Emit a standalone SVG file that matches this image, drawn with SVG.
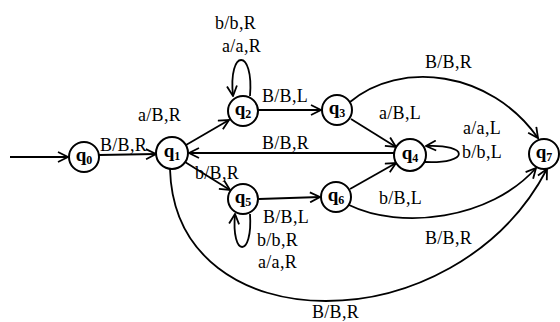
<svg xmlns="http://www.w3.org/2000/svg" width="560" height="322" viewBox="0 0 560 322">
<style>
.node circle{fill:#fff;stroke:#000;stroke-width:2}
.st{font-family:"Liberation Serif","Times New Roman",serif;font-weight:bold;font-size:19px;text-anchor:middle;fill:#000}
.sub{font-size:12px}
.lbl{font-family:"Liberation Serif","Times New Roman",serif;font-size:18px;fill:#000;letter-spacing:0.3px}
.edge{fill:none;stroke:#000;stroke-width:1.8;marker-end:url(#arr)}
</style>
<defs>
<marker id="arr" viewBox="0 0 12 12" refX="11" refY="6" markerWidth="12" markerHeight="12" markerUnits="userSpaceOnUse" orient="auto">
<path d="M1,1 L11,6 L1,11" fill="none" stroke="#000" stroke-width="1.8"/>
</marker>
</defs>
<rect width="560" height="322" fill="#fff"/>
<g id="connectors">
<path class="edge" d="M10,157 L68,157"/>
<path class="edge" d="M99,155 L156,154"/>
<path class="edge" d="M186,145 L229,120"/>
<path class="edge" d="M258,110 L321,110"/>
<path class="edge" d="M351,119 L396,147"/>
<path class="edge" d="M394,153 L189,153"/>
<path class="edge" d="M185,162 L230,190"/>
<path class="edge" d="M259,199 L320,197"/>
<path class="edge" d="M350,189 L396,163"/>
<path class="edge" d="M350,102 C400,60 490,70 538,138"/>
<path class="edge" d="M349,205 C400,230 490,220 536,168"/>
<path class="edge" d="M170,169 C175,345 455,345 547,169"/>
<path class="edge" d="M250,96 C254,48 228,48 233,96"/>
<path class="edge" d="M250,214 C253,258 231,258 235,214"/>
<path class="edge" d="M425,162 C470,164 470,144 426,146"/>
</g>
<g id="labels">
<text class="lbl" x="100" y="151">B/B,R</text>
<text class="lbl" x="138" y="121">a/B,R</text>
<text class="lbl" x="215" y="29">b/b,R</text>
<text class="lbl" x="222" y="52">a/a,R</text>
<text class="lbl" x="262" y="102">B/B,L</text>
<text class="lbl" x="379" y="119">a/B,L</text>
<text class="lbl" x="262" y="149">B/B,R</text>
<text class="lbl" x="195" y="179">b/B,R</text>
<text class="lbl" x="263" y="223">B/B,L</text>
<text class="lbl" x="257" y="246">b/b,R</text>
<text class="lbl" x="258" y="268">a/a,R</text>
<text class="lbl" x="463" y="134">a/a,L</text>
<text class="lbl" x="462" y="158">b/b,L</text>
<text class="lbl" x="379" y="204">b/B,L</text>
<text class="lbl" x="425" y="68">B/B,R</text>
<text class="lbl" x="425" y="244">B/B,R</text>
<text class="lbl" x="312" y="318">B/B,R</text>
</g>
<g id="q0" class="node"><circle cx="84" cy="157" r="15"/><text class="st" x="84" y="161">q<tspan class="sub" dy="3">0</tspan></text></g>
<g id="q1" class="node"><circle cx="172" cy="153" r="16"/><text class="st" x="172" y="157">q<tspan class="sub" dy="3">1</tspan></text></g>
<g id="q2" class="node"><circle cx="243" cy="111" r="15"/><text class="st" x="243" y="115">q<tspan class="sub" dy="3">2</tspan></text></g>
<g id="q3" class="node"><circle cx="337" cy="110" r="15"/><text class="st" x="337" y="114">q<tspan class="sub" dy="3">3</tspan></text></g>
<g id="q4" class="node"><circle cx="410" cy="155" r="16"/><text class="st" x="410" y="159">q<tspan class="sub" dy="3">4</tspan></text></g>
<g id="q5" class="node"><circle cx="243" cy="199" r="15"/><text class="st" x="243" y="203">q<tspan class="sub" dy="3">5</tspan></text></g>
<g id="q6" class="node"><circle cx="336" cy="197" r="15"/><text class="st" x="336" y="201">q<tspan class="sub" dy="3">6</tspan></text></g>
<g id="q7" class="node"><circle cx="544" cy="154" r="15"/><text class="st" x="544" y="158">q<tspan class="sub" dy="3">7</tspan></text></g>
</svg>
